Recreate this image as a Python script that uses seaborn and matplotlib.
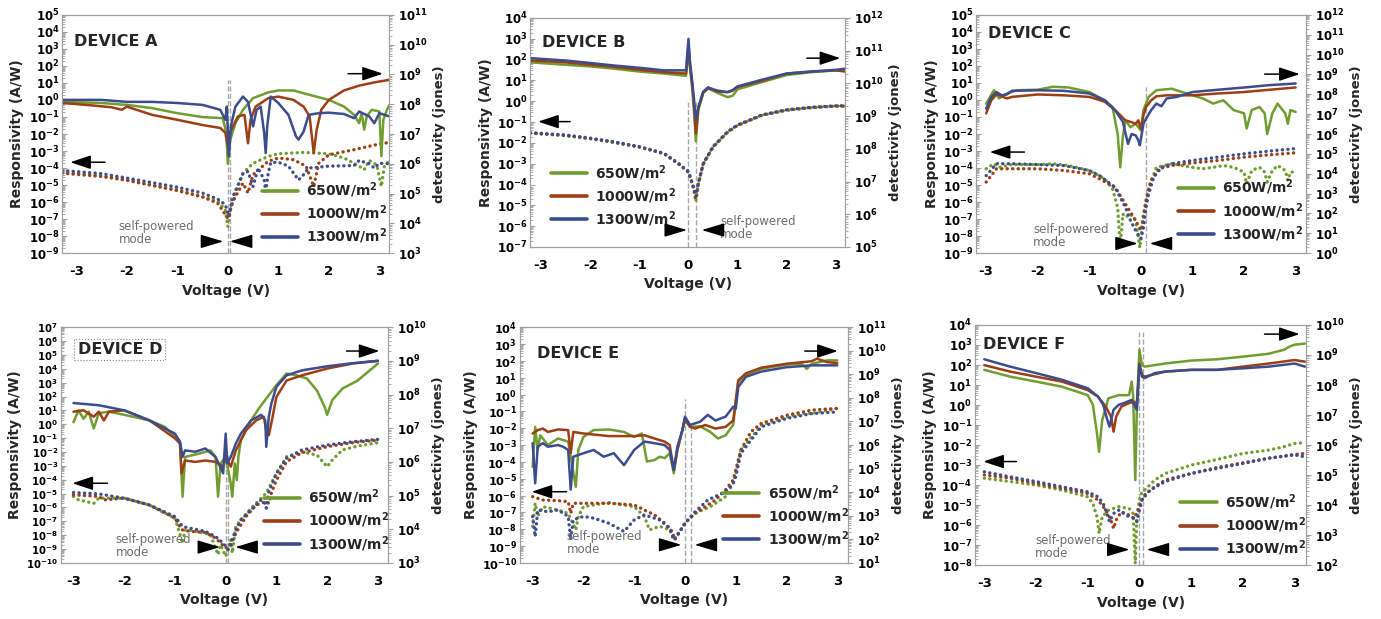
import numpy as np
import matplotlib
matplotlib.use("Agg")
import matplotlib.pyplot as plt
import seaborn as sns
from matplotlib.lines import Line2D
from matplotlib.ticker import LogLocator, LogFormatterMathtext, MultipleLocator, NullFormatter

# ---------------- data ----------------
SERIES = ["650W/m$^2$", "1000W/m$^2$", "1300W/m$^2$"]
X_TICKS = [-3, -2, -1, 0, 1, 2, 3]

# DEVICE A
A650_V_det = [-3.28,-2.5,-2.0,-1.5,-1.0,-0.5,-0.1,-0.03,0.0,0.05,0.15,0.3,0.5,0.8,1.0,1.3,1.6,2.0,2.3,2.5,2.6,2.65,2.7,2.75,2.85,3.0,3.04,3.08,3.15,3.2]
A650_det = [1.2e8,1.1e8,9.5e7,7.4e7,5.0e7,3.7e7,3.4e7,1.1e7,1.0e6,6.5e6,2.3e7,6.5e7,1.6e8,2.5e8,2.9e8,2.9e8,2.1e8,1.4e8,8.3e7,4.4e7,2.3e7,5.0e7,1.4e7,3.9e7,6.5e7,5.7e7,1.8e6,3.0e7,6.5e7,9.5e7]
A1000_V_det = [-3.28,-2.8,-2.3,-2.1,-2.0,-1.5,-1.0,-0.5,-0.15,-0.05,0.0,0.05,0.2,0.33,0.4,0.45,0.55,0.8,1.0,1.3,1.5,1.62,1.7,1.76,1.85,2.0,2.3,2.6,2.9,3.2]
A1000_det = [1.1e8,9.5e7,7.9e7,6.5e7,8.3e7,4.4e7,3.0e7,2.0e7,1.6e7,1.1e7,3.8e6,1.2e7,3.9e7,4.4e7,4.9e6,3.0e7,8.3e7,1.6e8,1.8e8,1.4e8,8.3e7,3.9e7,2.3e6,1.4e7,6.5e7,1.4e8,2.9e8,4.2e8,5.4e8,6.6e8]
A1300_V_det = [-3.28,-2.5,-2.0,-1.5,-1.0,-0.5,-0.15,-0.05,-0.02,0.02,0.06,0.15,0.3,0.4,0.5,0.57,0.65,0.72,0.75,0.78,0.85,1.0,1.2,1.35,1.4,1.5,1.6,1.8,2.0,2.3,2.5,2.6,2.8,2.9,3.0,3.2]
A1300_det = [1.4e8,1.4e8,1.2e8,1.2e8,1.1e8,9.5e7,6.5e7,3.0e7,8.3e7,1.8e6,1.8e7,8.3e7,1.8e8,1.2e8,1.8e7,6.5e7,8.3e7,1.1e7,2.3e6,1.8e7,1.8e8,1.1e8,4.4e7,8.3e6,6.5e6,1.2e7,4.4e7,5.0e7,5.2e7,4.7e7,3.4e7,5.7e7,3.9e7,2.3e7,5.0e7,3.9e7]
A650_V_res = [-3.28,-2.5,-2.0,-1.5,-1.0,-0.5,-0.2,-0.05,0.0,0.05,0.15,0.3,0.5,0.8,1.0,1.5,2.0,2.3,2.5,2.6,2.7,2.8,2.95,3.04,3.1,3.2]
A650_res = [5.5e-5,3.5e-5,2.0e-5,1.0e-5,5.4e-6,2.1e-6,1.1e-6,3.5e-7,3.7e-8,3.5e-7,3.4e-6,5.0e-5,1.9e-4,4.8e-4,6.9e-4,8.3e-4,6.9e-4,3.9e-4,1.9e-4,1.3e-4,8.0e-5,2.8e-4,1.5e-4,8.3e-6,1.3e-4,2.5e-4]
A1000_V_res = [-3.28,-2.5,-2.0,-1.5,-1.0,-0.5,-0.2,0.0,0.1,0.3,0.4,0.5,0.8,1.0,1.3,1.55,1.7,1.8,2.0,2.5,3.0,3.2]
A1000_res = [5.0e-5,3.2e-5,1.9e-5,9.5e-6,4.7e-6,2.0e-6,8.7e-7,1.1e-7,1.1e-6,1.3e-5,3.4e-6,4.1e-5,2.5e-4,3.9e-4,3.1e-4,1.3e-4,8.3e-6,1.9e-4,6.0e-4,1.2e-3,2.6e-3,3.2e-3]
A1300_V_res = [-3.28,-2.5,-2.0,-1.5,-1.0,-0.5,-0.2,-0.05,0.02,0.1,0.2,0.3,0.4,0.5,0.6,0.72,0.75,0.8,0.85,1.0,1.2,1.35,1.4,1.5,1.6,2.0,2.5,2.6,2.8,2.9,3.0,3.2]
A1300_res = [7.2e-5,4.7e-5,2.6e-5,1.4e-5,7.6e-6,3.4e-6,1.5e-6,7.1e-7,1.4e-7,2.1e-6,1.0e-5,4.7e-5,6.3e-5,8.3e-6,1.0e-4,2.0e-5,4.3e-6,5.0e-5,2.1e-4,2.2e-4,1.3e-4,3.2e-5,2.0e-5,4.1e-5,1.0e-4,1.3e-4,1.4e-4,2.8e-4,1.8e-4,1.0e-4,1.9e-4,1.8e-4]

# DEVICE B
B_V_det = [-3.22,-2.5,-2.0,-1.5,-1.0,-0.5,-0.05,0.0,0.03,0.08,0.12,0.15,0.2,0.3,0.4,0.5,0.6,0.8,0.9,1.0,1.5,2.0,2.5,3.0,3.19]
B650_det = [4.4e10,3.7e10,3.3e10,2.8e10,2.3e10,2.0e10,1.7e10,1.1e11,3.0e10,6.3e9,9.8e8,1.7e8,1.5e9,5.2e9,7.1e9,6.0e9,5.0e9,3.8e9,4.2e9,6.6e9,1.1e10,1.8e10,2.2e10,2.5e10,2.5e10]
B1000_det = [5.0e10,4.4e10,3.7e10,3.2e10,2.6e10,2.2e10,2.0e10,1.5e11,3.7e10,8.1e9,1.5e9,3.0e8,1.7e9,5.2e9,7.1e9,6.3e9,5.6e9,5.4e9,6.0e9,7.8e9,1.2e10,2.0e10,2.3e10,2.5e10,2.3e10]
B1300_det = [5.9e10,5.0e10,4.2e10,3.5e10,3.0e10,2.5e10,2.5e10,2.3e11,4.7e10,1.0e10,2.5e9,7.6e8,1.9e9,5.6e9,7.6e9,6.6e9,6.0e9,5.4e9,6.3e9,8.1e9,1.3e10,2.0e10,2.3e10,2.6e10,2.8e10]
B_V_res = [-3.22,-2.5,-2.0,-1.5,-1.0,-0.5,-0.2,0.0,0.1,0.15,0.2,0.3,0.5,0.8,1.0,1.5,2.0,2.5,3.0,3.19]
B650_res = [2.9e-2,2.2e-2,1.6e-2,1.0e-2,6.2e-3,3.0e-3,9.5e-4,3.8e-4,7.0e-5,1.5e-5,1.0e-4,9.5e-4,6.3e-3,3.3e-2,6.9e-2,2.1e-1,3.7e-1,4.9e-1,5.8e-1,5.8e-1]
B1000_res = [3.0e-2,2.3e-2,1.6e-2,1.1e-2,6.4e-3,3.1e-3,1.0e-3,4.0e-4,7.5e-5,2.0e-5,1.1e-4,1.0e-3,6.5e-3,3.4e-2,7.0e-2,2.2e-1,3.8e-1,5.0e-1,5.9e-1,5.9e-1]
B1300_res = [3.1e-2,2.4e-2,1.7e-2,1.1e-2,6.6e-3,3.2e-3,1.0e-3,4.2e-4,7.8e-5,2.6e-5,1.1e-4,1.0e-3,6.6e-3,3.5e-2,7.2e-2,2.2e-1,3.9e-1,5.1e-1,6.0e-1,6.0e-1]

# DEVICE C
C650_V_det = [-3.0,-2.85,-2.75,-2.6,-2.4,-2.0,-1.7,-1.4,-1.0,-0.7,-0.55,-0.45,-0.4,-0.35,-0.3,-0.2,-0.1,0.0,0.05,0.15,0.3,0.6,0.8,1.0,1.2,1.4,1.6,1.8,2.0,2.05,2.15,2.3,2.4,2.45,2.55,2.65,2.8,2.85,2.9,3.0]
C650_det = [3.4e7,1.6e8,6.2e7,1.1e8,1.6e8,1.7e8,2.4e8,2.2e8,1.3e8,5.0e7,2.3e7,1.0e6,2.1e4,7.1e5,4.9e6,2.2e6,3.3e6,1.5e6,1.6e7,7.4e7,1.6e8,1.9e8,1.3e8,8.9e7,6.2e7,3.4e7,5.0e7,1.6e7,1.1e7,1.9e6,1.6e7,2.3e7,1.1e7,1.0e6,1.1e7,3.4e7,1.1e7,3.3e6,1.6e7,1.3e7]
C1000_V_det = [-3.0,-2.9,-2.8,-2.6,-2.5,-2.0,-1.5,-1.0,-0.7,-0.5,-0.3,-0.2,-0.1,-0.05,0.0,0.05,0.1,0.2,0.3,0.5,1.0,1.5,2.0,2.5,3.0]
C1000_det = [1.1e7,5.0e7,1.0e8,6.2e7,7.4e7,9.8e7,8.9e7,7.4e7,4.2e7,1.6e7,4.9e6,4.1e6,3.3e6,4.9e6,1.9e6,8.7e6,2.3e7,5.0e7,7.9e7,8.9e7,8.9e7,1.1e8,1.3e8,1.7e8,2.2e8]
C1300_V_det = [-3.0,-2.9,-2.8,-2.7,-2.6,-2.5,-2.0,-1.5,-1.0,-0.7,-0.5,-0.35,-0.25,-0.18,-0.1,-0.05,-0.02,0.05,0.1,0.2,0.3,0.4,0.5,0.7,1.0,1.5,2.0,2.5,3.0]
C1300_det = [1.9e7,7.4e7,1.3e8,8.9e7,9.8e7,1.5e8,1.6e8,1.5e8,1.1e8,5.0e7,1.6e7,4.1e6,3.2e5,1.0e6,8.5e5,4.8e5,2.7e5,3.3e6,5.9e6,1.6e7,3.4e7,2.5e7,6.2e7,7.4e7,1.3e8,1.7e8,2.2e8,2.9e8,3.5e8]
C650_V_res = [-3.0,-2.85,-2.75,-2.5,-2.0,-1.7,-1.4,-1.0,-0.7,-0.55,-0.45,-0.4,-0.35,-0.3,-0.2,-0.1,-0.02,0.05,0.15,0.3,0.6,0.8,1.0,1.2,1.4,1.6,1.8,2.0,2.05,2.15,2.3,2.4,2.45,2.55,2.65,2.8,2.85,2.9,3.0]
C650_res = [9.1e-5,1.8e-4,1.1e-4,1.6e-4,1.6e-4,1.8e-4,1.4e-4,7.2e-5,2.3e-5,6.0e-6,4.9e-7,2.1e-9,2.0e-7,1.3e-7,2.0e-7,8.1e-8,2.1e-9,2.0e-7,7.4e-6,1.1e-4,1.8e-4,1.4e-4,1.1e-4,9.1e-5,1.1e-4,1.4e-4,1.1e-4,5.8e-5,1.2e-5,7.2e-5,1.1e-4,5.8e-5,1.5e-5,7.2e-5,1.4e-4,7.2e-5,1.9e-5,5.8e-5,5.8e-5]
C1000_V_res = [-3.0,-2.8,-2.5,-2.0,-1.5,-1.0,-0.8,-0.5,-0.3,-0.2,-0.1,0.0,0.05,0.1,0.2,0.35,0.6,1.0,1.5,2.0,2.5,3.0]
C1000_res = [1.5e-5,9.1e-5,9.1e-5,9.1e-5,7.2e-5,4.6e-5,2.3e-5,7.4e-6,7.8e-7,2.5e-7,8.1e-8,2.1e-8,1.3e-7,1.2e-6,1.9e-5,9.1e-5,1.4e-4,2.0e-4,2.8e-4,4.4e-4,6.0e-4,7.9e-4]
C1300_V_res = [-3.0,-2.8,-2.5,-2.0,-1.5,-1.0,-0.8,-0.5,-0.3,-0.2,-0.1,0.0,0.05,0.1,0.15,0.25,0.4,0.6,1.0,1.5,2.0,2.5,3.0]
C1300_res = [3.6e-5,1.8e-4,1.8e-4,1.6e-4,1.4e-4,7.2e-5,3.6e-5,7.4e-6,4.9e-7,8.1e-8,2.1e-8,6.8e-9,3.2e-8,4.9e-7,3.0e-6,2.9e-5,1.1e-4,1.8e-4,2.8e-4,4.4e-4,6.9e-4,1.0e-3,1.4e-3]

# DEVICE D
D650_V_det = [-3.0,-2.9,-2.8,-2.7,-2.6,-2.5,-2.3,-2.0,-1.5,-1.2,-1.0,-0.9,-0.85,-0.8,-0.5,-0.3,-0.2,-0.15,-0.1,0.0,0.1,0.13,0.18,0.22,0.25,0.3,0.5,0.65,0.8,1.0,1.2,1.4,1.6,1.8,1.95,2.0,2.1,2.3,2.6,3.0]
D650_det = [1.5e7,3.4e7,1.9e7,3.1e7,9.8e6,2.8e7,3.1e7,2.5e7,1.7e7,1.1e7,5.6e6,3.5e6,9.3e4,1.4e6,1.8e6,2.2e6,1.4e6,9.3e4,9.1e5,1.4e6,2.3e5,9.3e4,9.1e5,2.9e5,1.4e6,4.5e6,1.7e7,3.8e7,7.6e7,1.9e8,4.2e8,3.7e8,3.0e8,1.3e8,4.3e7,2.5e7,6.8e7,1.5e8,2.6e8,8.3e8]
D1000_V_det = [-3.0,-2.8,-2.6,-2.5,-2.4,-2.3,-2.0,-1.5,-1.0,-0.9,-0.87,-0.8,-0.6,-0.4,-0.2,-0.05,0.0,0.1,0.2,0.4,0.6,0.75,0.8,0.85,0.9,1.0,1.2,1.5,2.0,2.5,3.0]
D1000_det = [3.1e7,3.4e7,2.2e7,3.1e7,1.7e7,3.1e7,3.4e7,1.7e7,5.0e6,3.5e6,4.6e5,1.1e6,1.0e6,1.1e6,1.0e6,7.2e5,1.4e6,7.2e5,2.2e6,8.7e6,1.7e7,2.2e7,8.7e6,6.2e6,1.4e7,8.5e7,2.6e8,3.7e8,5.9e8,8.3e8,1.0e9]
D1300_V_det = [-3.0,-2.5,-2.0,-1.5,-1.0,-0.9,-0.85,-0.8,-0.6,-0.4,-0.2,-0.05,0.0,0.03,0.1,0.2,0.3,0.5,0.7,0.78,0.8,0.85,0.9,1.0,1.2,1.5,2.0,2.5,3.0]
D1300_det = [5.6e7,4.8e7,3.4e7,1.7e7,6.9e6,4.0e6,1.4e6,2.2e6,2.0e6,2.5e6,1.4e6,4.6e5,6.9e6,9.1e5,1.4e6,3.5e6,6.9e6,1.7e7,2.5e7,1.7e7,2.8e6,2.2e7,5.4e7,1.7e8,3.7e8,5.2e8,6.9e8,8.5e8,1.0e9]
D650_V_res = [-3.0,-2.9,-2.6,-2.5,-2.0,-1.5,-1.0,-0.85,-0.8,-0.5,-0.3,-0.15,-0.1,0.0,0.1,0.13,0.2,0.3,0.5,0.7,0.8,1.0,1.2,1.5,1.8,2.0,2.1,2.3,2.6,3.0]
D650_res = [6.2e-6,3.5e-6,2.0e-6,4.7e-6,4.7e-6,1.5e-6,1.7e-7,2.7e-9,2.5e-8,1.6e-8,1.1e-8,4.0e-10,2.0e-9,3.0e-10,4.7e-9,5.2e-10,4.3e-8,1.3e-7,8.9e-7,4.7e-6,1.1e-5,2.9e-4,4.6e-3,1.0e-2,6.0e-3,8.7e-4,2.6e-3,1.4e-2,2.7e-2,4.7e-2]
D1000_V_res = [-3.0,-2.5,-2.4,-2.0,-1.5,-1.0,-0.87,-0.7,-0.4,-0.2,0.0,0.1,0.2,0.4,0.6,0.8,0.85,0.9,1.0,1.2,1.5,2.0,2.5,3.0]
D1000_res = [8.1e-6,6.2e-6,3.5e-6,4.7e-6,1.5e-6,1.7e-7,2.5e-8,1.9e-8,1.6e-8,6.2e-9,1.2e-9,2.0e-9,1.4e-8,2.2e-7,1.5e-6,2.7e-6,2.0e-6,1.1e-5,9.5e-5,2.0e-3,8.9e-3,2.4e-2,4.7e-2,7.2e-2]
D1300_V_res = [-3.0,-2.5,-2.0,-1.5,-1.0,-0.85,-0.7,-0.4,-0.2,-0.05,0.05,0.1,0.2,0.3,0.5,0.7,0.78,0.8,0.85,1.0,1.2,1.5,2.0,2.5,3.0]
D1300_res = [1.2e-5,9.5e-6,4.7e-6,1.5e-6,2.2e-7,4.3e-8,3.2e-8,1.9e-8,8.1e-9,2.7e-9,9.1e-10,2.7e-9,2.5e-8,1.3e-7,6.8e-7,3.5e-6,2.0e-6,8.9e-7,1.4e-5,2.9e-4,3.5e-3,1.4e-2,3.2e-2,5.5e-2,8.1e-2]

# DEVICE E
E650_V_det = [-3.0,-2.95,-2.9,-2.85,-2.7,-2.5,-2.3,-2.15,-2.1,-2.0,-1.8,-1.5,-1.2,-1.0,-0.85,-0.75,-0.6,-0.5,-0.4,-0.3,-0.22,-0.15,-0.05,0.0,0.1,0.3,0.5,0.65,0.8,0.95,1.0,1.05,1.2,1.5,2.0,2.3,2.4,2.5,2.8,3.0]
E650_det = [1.2e5,5.9e6,6.2e5,2.6e6,1.0e6,1.9e6,1.4e6,1.7e4,6.2e5,2.2e6,4.3e6,4.6e6,3.6e6,2.2e6,3.1e6,2.0e5,2.3e5,3.2e5,2.8e5,4.5e5,6.3e4,6.2e5,4.3e6,1.1e7,5.9e6,6.2e6,3.6e6,1.9e6,2.6e6,7.1e6,5.8e7,4.8e8,9.1e8,1.7e9,2.6e9,2.8e9,1.7e9,2.8e9,3.9e9,3.9e9]
E1000_V_det = [-3.0,-2.9,-2.8,-2.7,-2.5,-2.3,-2.25,-2.2,-2.0,-1.5,-1.0,-0.8,-0.6,-0.4,-0.3,-0.22,-0.15,-0.05,0.0,0.1,0.2,0.4,0.6,0.8,0.95,1.0,1.05,1.2,1.5,2.0,2.5,2.6,2.8,3.0]
E1000_det = [3.1e6,4.3e6,5.0e6,3.6e6,4.6e6,4.3e6,4.5e5,3.6e6,3.1e6,2.4e6,2.4e6,2.6e6,1.9e6,1.4e6,1.0e6,8.7e4,6.2e5,4.3e6,1.3e7,5.9e6,5.0e6,7.1e6,5.0e6,5.9e6,1.1e7,7.9e7,5.6e8,1.1e9,1.9e9,2.8e9,3.6e9,4.6e9,3.3e9,3.0e9]
E1300_V_det = [-3.0,-2.95,-2.9,-2.8,-2.7,-2.5,-2.4,-2.3,-2.25,-2.2,-2.0,-1.8,-1.6,-1.4,-1.2,-1.0,-0.8,-0.6,-0.4,-0.3,-0.22,-0.15,-0.05,0.0,0.1,0.3,0.45,0.6,0.8,0.95,1.0,1.05,1.2,1.5,2.0,2.5,3.0]
E1300_det = [1.2e6,2.4e4,8.5e5,1.2e6,8.5e5,1.0e6,8.5e5,6.2e5,1.3e4,3.2e5,4.5e5,6.2e5,3.2e5,4.5e5,1.4e5,6.2e5,1.4e6,1.2e6,1.0e6,6.2e5,8.7e4,8.5e5,4.3e6,1.6e7,7.1e6,9.8e6,1.9e7,1.1e7,1.6e7,4.2e7,3.5e7,2.9e8,7.8e8,1.3e9,2.0e9,2.4e9,2.4e9]
E650_V_res = [-3.0,-2.95,-2.9,-2.8,-2.5,-2.3,-2.15,-2.1,-2.0,-1.5,-1.0,-0.8,-0.7,-0.5,-0.3,-0.22,-0.1,0.0,0.2,0.5,0.8,0.95,1.0,1.1,1.5,2.0,2.4,2.5,3.0]
E650_res = [1.5e-8,3.5e-7,5.8e-8,2.2e-7,1.4e-7,8.9e-8,9.3e-9,5.8e-8,2.2e-7,3.9e-7,2.2e-7,5.8e-8,9.3e-9,1.5e-8,9.3e-9,2.4e-9,7.4e-9,2.3e-8,8.9e-8,2.2e-7,8.7e-7,5.4e-6,2.1e-5,5.0e-4,1.5e-2,4.7e-2,8.1e-2,7.4e-2,1.5e-1]
E1000_V_res = [-3.0,-2.8,-2.5,-2.3,-2.25,-2.2,-2.0,-1.5,-1.0,-0.8,-0.6,-0.4,-0.25,-0.2,-0.1,0.0,0.2,0.4,0.6,0.8,0.95,1.0,1.1,1.3,1.5,2.0,2.5,3.0]
E1000_res = [8.7e-7,5.5e-7,5.0e-7,4.4e-7,8.9e-8,3.5e-7,3.5e-7,3.5e-7,2.8e-7,1.4e-7,7.2e-8,2.3e-8,7.4e-9,2.4e-9,7.4e-9,2.3e-8,8.9e-8,2.2e-7,5.5e-7,2.2e-6,8.5e-6,3.3e-5,5.0e-4,6.2e-3,1.9e-2,5.9e-2,1.2e-1,1.5e-1]
E1300_V_res = [-3.0,-2.95,-2.9,-2.7,-2.5,-2.3,-2.25,-2.2,-2.0,-1.8,-1.5,-1.2,-1.0,-0.8,-0.5,-0.3,-0.22,-0.1,0.0,0.2,0.45,0.8,0.95,1.0,1.1,1.5,2.0,2.5,3.0]
E1300_res = [5.8e-8,3.7e-9,1.4e-7,1.1e-7,1.4e-7,5.8e-8,2.4e-9,3.6e-8,5.8e-8,4.6e-8,2.3e-8,7.4e-9,3.6e-8,7.2e-8,3.6e-8,1.2e-8,2.4e-9,7.4e-9,2.3e-8,1.1e-7,5.5e-7,1.7e-6,5.4e-6,1.3e-5,3.2e-4,1.2e-2,3.8e-2,7.4e-2,9.3e-2]

# DEVICE F
F650_V_det = [-3.0,-2.5,-2.0,-1.5,-1.0,-0.9,-0.82,-0.78,-0.72,-0.6,-0.4,-0.2,-0.15,-0.12,-0.08,-0.05,0.0,0.05,0.1,0.5,1.0,1.5,2.0,2.5,2.8,2.9,3.0,3.2]
F650_det = [3.2e8,1.9e8,1.3e8,8.8e7,4.6e7,2.2e7,2.4e6,6.0e5,6.8e6,3.6e7,4.6e7,4.6e7,1.3e8,4.1e7,6.8e4,1.5e7,1.5e9,4.6e8,4.1e8,5.2e8,6.5e8,7.2e8,8.8e8,1.1e9,1.5e9,1.9e9,2.2e9,2.4e9]
F1000_V_det = [-3.0,-2.5,-2.0,-1.5,-1.0,-0.8,-0.65,-0.55,-0.5,-0.45,-0.35,-0.2,-0.1,-0.05,0.0,0.05,0.1,0.5,1.0,1.5,2.0,2.5,3.0,3.2]
F1000_det = [4.6e8,2.8e8,1.9e8,1.3e8,6.8e7,4.1e7,1.9e7,8.8e6,2.8e6,8.8e6,1.9e7,2.5e7,2.8e7,2.2e7,5.2e8,2.2e8,1.9e8,2.8e8,3.2e8,3.2e8,4.1e8,5.2e8,6.8e8,6.0e8]
F1300_V_det = [-3.0,-2.5,-2.0,-1.5,-1.0,-0.8,-0.7,-0.62,-0.58,-0.5,-0.4,-0.3,-0.15,-0.05,0.0,0.05,0.1,0.3,0.5,1.0,1.5,2.0,2.5,3.0,3.2]
F1300_det = [7.2e8,4.1e8,2.5e8,1.5e8,7.8e7,4.1e7,2.2e7,6.8e6,4.1e6,1.5e7,2.2e7,2.5e7,3.2e7,1.5e7,4.6e8,1.9e8,1.7e8,2.5e8,2.8e8,3.2e8,3.2e8,3.6e8,4.1e8,5.2e8,4.1e8]
F650_V_res = [-3.0,-2.5,-2.0,-1.5,-1.0,-0.9,-0.82,-0.78,-0.72,-0.6,-0.4,-0.2,-0.12,-0.08,-0.05,0.0,0.05,0.1,0.3,0.5,1.0,1.5,2.0,2.5,2.8,3.0,3.2]
F650_res = [2.2e-4,1.5e-4,1.0e-4,5.6e-5,2.6e-5,1.2e-5,2.6e-6,3.8e-7,2.6e-6,5.6e-6,8.3e-6,6.8e-6,3.8e-6,1.2e-8,2.6e-6,1.8e-5,4.6e-5,5.6e-5,1.8e-4,3.8e-4,1.0e-3,1.9e-3,3.8e-3,5.6e-3,8.3e-3,1.2e-2,1.3e-2]
F1000_V_res = [-3.0,-2.5,-2.0,-1.5,-1.0,-0.8,-0.65,-0.55,-0.5,-0.45,-0.35,-0.2,-0.1,0.0,0.05,0.1,0.3,0.5,1.0,1.5,2.0,2.5,3.0,3.2]
F1000_res = [3.2e-4,2.2e-4,1.2e-4,6.8e-5,3.8e-5,1.8e-5,5.6e-6,1.8e-6,6.8e-7,1.8e-6,4.6e-6,3.2e-6,2.2e-6,8.3e-6,1.8e-5,3.2e-5,8.3e-5,1.8e-4,3.8e-4,7.6e-4,1.3e-3,2.2e-3,3.4e-3,3.8e-3]
F1300_V_res = [-3.0,-2.5,-2.0,-1.5,-1.0,-0.8,-0.7,-0.62,-0.58,-0.5,-0.4,-0.3,-0.2,-0.1,-0.05,0.0,0.05,0.1,0.2,0.5,1.0,1.5,2.0,2.5,3.0,3.2]
F1300_res = [4.6e-4,2.6e-4,1.5e-4,8.3e-5,4.6e-5,2.6e-5,1.2e-5,3.2e-6,1.5e-6,3.8e-6,5.6e-6,3.8e-6,2.6e-6,2.2e-6,1.5e-6,5.6e-6,1.8e-5,2.6e-5,5.6e-5,1.5e-4,3.8e-4,6.8e-4,1.2e-3,2.2e-3,3.2e-3,2.6e-3]

CURVES = {
    "A": [(A650_V_res, A650_res, A650_V_det, A650_det), (A1000_V_res, A1000_res, A1000_V_det, A1000_det), (A1300_V_res, A1300_res, A1300_V_det, A1300_det)],
    "B": [(B_V_res, B650_res, B_V_det, B650_det), (B_V_res, B1000_res, B_V_det, B1000_det), (B_V_res, B1300_res, B_V_det, B1300_det)],
    "C": [(C650_V_res, C650_res, C650_V_det, C650_det), (C1000_V_res, C1000_res, C1000_V_det, C1000_det), (C1300_V_res, C1300_res, C1300_V_det, C1300_det)],
    "D": [(D650_V_res, D650_res, D650_V_det, D650_det), (D1000_V_res, D1000_res, D1000_V_det, D1000_det), (D1300_V_res, D1300_res, D1300_V_det, D1300_det)],
    "E": [(E650_V_res, E650_res, E650_V_det, E650_det), (E1000_V_res, E1000_res, E1000_V_det, E1000_det), (E1300_V_res, E1300_res, E1300_V_det, E1300_det)],
    "F": [(F650_V_res, F650_res, F650_V_det, F650_det), (F1000_V_res, F1000_res, F1000_V_det, F1000_det), (F1300_V_res, F1300_res, F1300_V_det, F1300_det)],
}

# ---------------- layout / style ----------------
COLORS = ["#709c30", "#9c3f14", "#3c4c8c"]
SPINE = "#a0a0a0"

PANELS = {
    "A": dict(pos=[0.045, 0.591, 0.237, 0.385], xlim=(-3.28, 3.2), yres=(1e-9, 1e5), ydet=(1e3, 1e11),
              title=(-3.05, 2.7e3), larrow=((-2.43, 2.2e-4), (-3.12, 2.2e-4)), rarrow=((2.38, 35), (3.07, 35)),
              sp=(-2.16, 1.6e-8), tri_y=4.9e-9, tri=((-0.42, -0.09), (0.37, 0.04)),
              vlines=[(0.0, 15), (0.05, 15)], legend=(0.61, 0.03), box=False, lsize=8.5),
    "B": dict(pos=[0.384, 0.601, 0.228, 0.370], xlim=(-3.22, 3.19), yres=(1e-7, 1e4), ydet=(1e5, 1e12),
              title=(-2.99, 680), larrow=((-2.41, 0.105), (-3.06, 0.105)), rarrow=((2.41, 117), (3.09, 117)),
              sp=(0.645, 8.3e-7), tri_y=6.5e-7, tri=((-0.34, -0.03), (0.58, 0.27)),
              vlines=[(0.0, 1.0), (0.15, 1.0)], legend=(0.065, 0.08), box=False, lsize=8.5),
    "C": dict(pos=[0.707, 0.591, 0.239, 0.385], xlim=(-3.19, 3.21), yres=(1e-9, 1e5), ydet=(1e0, 1e12),
              title=(-2.97, 8.3e3), larrow=((-2.26, 8.7e-4), (-2.93, 8.7e-4)), rarrow=((2.40, 33), (3.08, 33)),
              sp=(-2.09, 1.05e-8), tri_y=3.7e-9, tri=((-0.41, -0.06), (0.49, 0.17)),
              vlines=[(0.09, 5.9)], legend=(0.61, 0.04), box=False, lsize=8.5),
    "D": dict(pos=[0.044, 0.0905, 0.237, 0.381], xlim=(-3.25, 3.2), yres=(1e-10, 1e7), ydet=(1e3, 1e10),
              title=(-2.92, 2.5e5), larrow=((-2.33, 5.6e-5), (-3.02, 5.6e-5)), rarrow=((2.38, 1.9e5), (3.03, 1.9e5)),
              sp=(-2.17, 1.7e-9), tri_y=1.4e-9, tri=((-0.42, -0.11), (0.51, 0.19)),
              vlines=[(0.0, 1e-2), (0.05, 1e-2)], legend=(0.62, 0.04), box=True, lsize=7.3),
    "E": dict(pos=[0.3765, 0.0905, 0.2375, 0.381], xlim=(-3.25, 3.21), yres=(1e-10, 1e4), ydet=(1e1, 1e11),
              title=(-2.91, 290), larrow=((-2.33, 1.7e-6), (-3.02, 1.7e-6)), rarrow=((2.36, 380), (3.01, 380)),
              sp=(-2.33, 1.5e-9), tri_y=1.2e-9, tri=((-0.40, -0.07), (0.52, 0.19)),
              vlines=[(0.0, 0.58), (0.12, 0.015)], legend=(0.62, 0.06), box=False, lsize=8.2),
    "F": dict(pos=[0.706, 0.087, 0.240, 0.388], xlim=(-3.18, 3.23), yres=(1e-8, 1e4), ydet=(1e2, 1e10),
              title=(-3.02, 1.07e3), larrow=((-2.38, 1.5e-3), (-3.02, 1.5e-3)), rarrow=((2.42, 3.5e3), (3.10, 3.5e3)),
              sp=(-2.02, 8.3e-8), tri_y=6.0e-8, tri=((-0.51, -0.19), (0.46, 0.14)),
              vlines=[(0.0, 4.7e3), (0.07, 4.7e3)], legend=(0.62, 0.03), box=False, lsize=8.5),
}

sns.set_theme(style="white")
plt.rcParams["font.family"] = ["DejaVu Sans"]
plt.rcParams["font.weight"] = "bold"
plt.rcParams["mathtext.default"] = "bf"
plt.rcParams["axes.unicode_minus"] = False

fig = plt.figure(figsize=(13.81, 6.19), dpi=100)
fig.patch.set_facecolor("white")


def log_axis(axis):
    axis.set_major_locator(LogLocator(base=10, numticks=40))
    axis.set_major_formatter(LogFormatterMathtext())
    axis.set_minor_locator(LogLocator(base=10, subs=np.arange(2, 10), numticks=40))
    axis.set_minor_formatter(NullFormatter())


for key, cfg in PANELS.items():
    ax = fig.add_axes(cfg["pos"])
    ax.set_yscale("log")
    ax2 = ax.twinx()
    ax2.set_yscale("log")
    for (vr, r, vd, d), col in zip(CURVES[key], COLORS):
        sns.lineplot(x=vr, y=r, ax=ax, color=col, lw=2.4, linestyle=(0, (0.05, 1.6)),
                     dash_capstyle="round", estimator=None, sort=False, legend=False)
        sns.lineplot(x=vd, y=d, ax=ax2, color=col, lw=1.8, estimator=None, sort=False, legend=False)
    ax.set_xlim(*cfg["xlim"])
    ax.set_ylim(*cfg["yres"])
    ax2.set_ylim(*cfg["ydet"])
    log_axis(ax.yaxis)
    log_axis(ax2.yaxis)
    ax.xaxis.set_major_locator(MultipleLocator(1))
    ax.xaxis.set_minor_locator(MultipleLocator(0.2))
    ax.set_xticks(X_TICKS)
    ax.set_xticklabels([str(t) for t in X_TICKS])

    for a in (ax, ax2):
        for s in a.spines.values():
            s.set_color(SPINE)
            s.set_linewidth(0.8)
    ax.tick_params(axis="y", which="both", direction="in", colors=SPINE, labelcolor="black",
                   labelsize=cfg["lsize"], pad=2)
    ax.tick_params(axis="y", which="major", length=3.5, width=0.8)
    ax.tick_params(axis="y", which="minor", length=1.8, width=0.6)
    ax2.tick_params(axis="y", which="both", direction="out", colors=SPINE, labelcolor="black", labelsize=8.5, pad=3)
    ax2.tick_params(axis="y", which="major", length=3.5, width=0.8)
    ax2.tick_params(axis="y", which="minor", length=1.8, width=0.6)
    ax.tick_params(axis="x", which="both", direction="out", colors=SPINE, labelcolor="black", labelsize=9.5, pad=5)
    ax.tick_params(axis="x", which="major", length=3.5, width=0.8)
    ax.tick_params(axis="x", which="minor", length=2, width=0.6)

    ax.set_xlabel("Voltage (V)", fontsize=10, fontweight="bold", labelpad=4)
    ax.set_ylabel("Responsivity (A/W)", fontsize=10, fontweight="bold", labelpad=3)
    ax2.set_ylabel("detectivity (jones)", fontsize=9.5, fontweight="bold", labelpad=4)

    # device title
    bbox = dict(boxstyle="square,pad=0.2", fc="none", ec="#888888", ls=":", lw=0.8) if cfg["box"] else None
    ax.text(cfg["title"][0], cfg["title"][1], f"DEVICE {key}", fontsize=11.5, fontweight="bold",
            ha="left", va="center", bbox=bbox, zorder=5)

    # axis arrows
    for tail, head in (cfg["larrow"], cfg["rarrow"]):
        ax.annotate("", xy=head, xytext=tail,
                    arrowprops=dict(arrowstyle="-|>,head_length=0.9,head_width=0.3", color="black",
                                    lw=1.1, mutation_scale=14, shrinkA=0, shrinkB=0), zorder=6)

    # self-powered mode guides
    lo, hi = np.log10(cfg["yres"][0]), np.log10(cfg["yres"][1])
    for v, top in cfg["vlines"]:
        ax.axvline(v, ymin=0, ymax=(np.log10(top) - lo) / (hi - lo), color="#a8a8a8", ls="--", lw=1.0, zorder=1)
    for tail, tip in cfg["tri"]:
        ax.annotate("", xy=(tip, cfg["tri_y"]), xytext=(tail, cfg["tri_y"]),
                    arrowprops=dict(arrowstyle="-|>,head_length=1.0,head_width=0.3", color="black",
                                    lw=1.0, mutation_scale=14, shrinkA=0, shrinkB=0), zorder=6)
    ax.text(cfg["sp"][0], cfg["sp"][1], "self-powered\nmode", fontsize=8.5, fontweight="normal",
            color="#6e6e6e", ha="left", va="center", linespacing=1.0, zorder=4)

    handles = [Line2D([0], [0], color=c, lw=2.6) for c in COLORS]
    ax2.legend(handles, SERIES, loc="lower left", bbox_to_anchor=cfg["legend"], frameon=False,
               prop={"weight": "bold", "size": 10}, handlelength=2.6, handletextpad=0.6,
               labelspacing=0.25, borderaxespad=0, borderpad=0)

fig.savefig("out.png", dpi=100, facecolor="white")
